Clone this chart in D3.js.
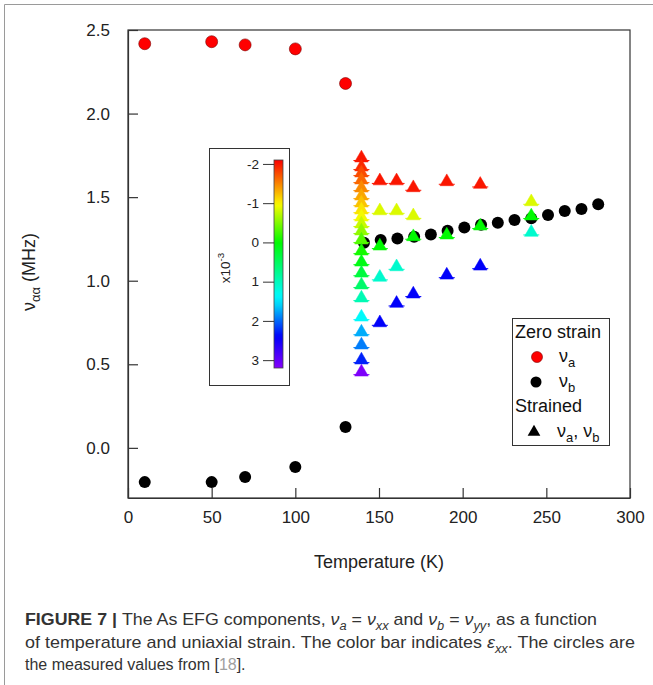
<!DOCTYPE html>
<html>
<head>
<meta charset="utf-8">
<script src="https://cdn.jsdelivr.net/npm/d3@7"></script>
<style>
  body { margin: 0; background: #fff; }
  svg { display: block; font-family: "Liberation Sans", Arial, sans-serif; }
</style>
</head>
<body>
<svg id="chart" width="653" height="685"></svg>
<script>
// zero strain, nu_a (red circles)
const zeroTempA = [10, 50, 70, 100, 130];
const zeroNuA = [2.418, 2.430, 2.411, 2.387, 2.180];

// zero strain, nu_b (black circles)
const zeroTempB = [10, 50, 70, 100, 130, 141, 151, 161, 171, 181, 191, 201, 211, 221, 231, 241, 251, 261, 271, 281];
const zeroNuB = [-0.205, -0.205, -0.174, -0.114, 0.125, 1.227, 1.243, 1.253, 1.263, 1.277, 1.299, 1.319,
  1.335, 1.347, 1.363, 1.373, 1.393, 1.417, 1.429, 1.458];

// strained (triangles): temperature, nu, strain eps_xx (x10^-3)
const strainTemp = [
  139.5, 139.5, 139.5, 139.5, 139.5, 139.5, 139.5, 139.5, 139.5, 139.5, 139.5,
  139.5, 139.5, 139.5, 139.5, 139.5, 139.5, 139.5, 139.5, 139.5, 139.5, 139.5,
  150.5, 150.5, 150.5, 150.5, 150.5,
  160.5, 160.5, 160.5, 160.5,
  170.5, 170.5, 170.5, 170.5,
  190.5, 190.5, 190.5,
  210.5, 210.5, 210.5,
  241, 241, 241
];
const strainNu = [
  1.734, 1.680, 1.644, 1.602, 1.554, 1.506, 1.464, 1.422, 1.380, 1.339, 1.297,
  1.243, 1.177, 1.111, 1.045, 0.974, 0.896, 0.782, 0.692, 0.615, 0.525, 0.453,
  1.597, 1.418, 1.207, 1.020, 0.748,
  1.597, 1.418, 1.083, 0.864,
  1.556, 1.388, 1.263, 0.920,
  1.592, 1.273, 1.033,
  1.576, 1.327, 1.087,
  1.472, 1.387, 1.289
];
const strainEps = [
  -2.0, -1.91, -1.76, -1.63, -1.47, -1.34, -1.21, -1.06, -0.94, -0.77, -0.56,
  -0.32, -0.08, 0.11, 0.33, 0.56, 0.96, 1.36, 1.74, 1.92, 2.27, 3.15,
  -2.0, -0.85, 0.0, 1.1, 2.4,
  -2.0, -0.85, 1.1, 2.4,
  -2.0, -0.85, 0.0, 2.4,
  -2.0, 0.0, 2.4,
  -2.0, 0.0, 2.4,
  -0.85, 0.0, 1.1
];

const xTicks = [0, 50, 100, 150, 200, 250, 300];
const yTicks = [0, 0.5, 1.0, 1.5, 2.0, 2.5];
const cbTicks = [-2, -1, 0, 1, 2, 3];

const svg = d3.select("#chart");

const x = d3.scaleLinear().domain([0, 300]).range([128, 630]);
const y = d3.scaleLinear().domain([-0.3, 2.5]).range([498, 30]);

const hue = d3.scaleLinear()
  .domain([-2.1, -1, 0, 1, 1.6, 2.4, 3.2])
  .range([0, 58, 120, 165, 190, 240, 272])
  .clamp(true);
const epsColor = (e) => d3.hsl(hue(e), 1, 0.49).formatHex();

// rich text with sub / superscripts
function rich(text, parts, size) {
  let shift = 0;
  parts.forEach(([str, kind, style]) => {
    const target = kind === "sub" ? size * 0.3 : kind === "sup" ? -size * 0.45 : 0;
    const ts = text.append("tspan").text(str).attr("dy", target - shift);
    if (kind) ts.attr("font-size", size * 0.72);
    if (style === "i") ts.attr("font-style", "italic");
    if (style === "b") ts.attr("font-weight", "bold");
    shift = target;
  });
}

// figure border
svg.append("path")
  .attr("d", "M4.5,685 V4.5 H653")
  .attr("fill", "none")
  .attr("stroke", "#9a9a9a");

// frame
svg.append("rect")
  .attr("x", x(0)).attr("y", y(2.5))
  .attr("width", x(300) - x(0)).attr("height", y(-0.3) - y(2.5))
  .attr("fill", "none").attr("stroke", "#333").attr("stroke-width", 1.2);

const gx = svg.append("g")
  .attr("transform", `translate(0,${y(-0.3)})`)
  .call(d3.axisBottom(x).tickValues(xTicks).tickSizeInner(-10).tickSizeOuter(0).tickPadding(13).tickFormat(d3.format("d")));

const gy = svg.append("g")
  .attr("transform", `translate(${x(0)},0)`)
  .call(d3.axisLeft(y).tickValues(yTicks).tickSizeInner(-10).tickSizeOuter(0).tickPadding(18).tickFormat(d3.format(".1f")));

[gx, gy].forEach((g) => {
  g.select(".domain").attr("stroke", "#333").attr("stroke-width", 1.2);
  g.selectAll(".tick line").attr("stroke", "#333").attr("stroke-width", 1.2);
  g.selectAll(".tick text").attr("font-size", 17).attr("fill", "#222")
    .attr("font-family", "Liberation Sans, Arial, sans-serif");
});

svg.append("text")
  .attr("x", (x(0) + x(300)) / 2).attr("y", 568)
  .attr("text-anchor", "middle").attr("font-size", 18).attr("fill", "#222")
  .text("Temperature (K)");

const yTitle = svg.append("text")
  .attr("transform", "translate(35,272) rotate(-90)")
  .attr("text-anchor", "middle").attr("font-size", 18).attr("fill", "#222");
rich(yTitle, [["ν"], ["αα", "sub"], [" (MHz)"]], 18);

// zero strain markers
svg.append("g").selectAll("circle")
  .data(zeroTempB.map((t, i) => [t, zeroNuB[i]]))
  .join("circle")
  .attr("cx", (d) => x(d[0])).attr("cy", (d) => y(d[1]))
  .attr("r", 6).attr("fill", "#000");

svg.append("g").selectAll("circle")
  .data(zeroTempA.map((t, i) => [t, zeroNuA[i]]))
  .join("circle")
  .attr("cx", (d) => x(d[0])).attr("cy", (d) => y(d[1]))
  .attr("r", 6).attr("fill", "#f00").attr("stroke", "#7a0000").attr("stroke-width", 0.6);

// strained markers
const tri = d3.symbol(d3.symbolTriangle, 80);
const strained = strainTemp.map((t, i) => ({ t, nu: strainNu[i], eps: strainEps[i] }));
const gt = svg.append("g").selectAll("g")
  .data(strained)
  .join("g")
  .attr("transform", (d) => `translate(${x(d.t)},${y(d.nu)})`);
gt.append("line")
  .attr("x1", -8).attr("x2", 8).attr("y1", 2.5).attr("y2", 2.5)
  .attr("stroke", (d) => epsColor(d.eps)).attr("stroke-width", 1);
gt.append("path")
  .attr("d", tri)
  .attr("fill", (d) => epsColor(d.eps))
  .attr("stroke", (d) => epsColor(d.eps)).attr("stroke-width", 0.5);

// color bar
const cb = d3.scaleLinear().domain([-2.1, 3.2]).range([160, 368]);
const grad = svg.append("defs").append("linearGradient")
  .attr("id", "cbGrad").attr("x1", 0).attr("x2", 0).attr("y1", 0).attr("y2", 1);
d3.range(0, 1.0001, 0.02).forEach((f) => {
  grad.append("stop").attr("offset", f).attr("stop-color", epsColor(-2.1 + f * 5.3));
});

svg.append("rect")
  .attr("x", 209.5).attr("y", 148.5).attr("width", 80).attr("height", 237)
  .attr("fill", "#fff").attr("stroke", "#333").attr("stroke-width", 1);
svg.append("rect")
  .attr("x", 274).attr("y", cb(-2.1)).attr("width", 9).attr("height", cb(3.2) - cb(-2.1))
  .attr("fill", "url(#cbGrad)").attr("stroke", "#444").attr("stroke-width", 0.8);
const gc = svg.append("g")
  .attr("transform", "translate(274,0)")
  .call(d3.axisLeft(cb).tickValues(cbTicks).tickSizeInner(11).tickSizeOuter(0).tickPadding(4).tickFormat((d) => String(d)));
gc.select(".domain").remove();
gc.selectAll(".tick line").attr("stroke", "#333");
gc.selectAll(".tick text").attr("font-size", 13.5).attr("fill", "#222")
  .attr("font-family", "Liberation Sans, Arial, sans-serif");

const cbTitle = svg.append("text")
  .attr("transform", "translate(230,268) rotate(-90)")
  .attr("text-anchor", "middle").attr("font-size", 13.5).attr("fill", "#222");
rich(cbTitle, [["x10"], ["-3", "sup"]], 13.5);

// legend
const lg = svg.append("g");
lg.append("rect")
  .attr("x", 512.5).attr("y", 318.5).attr("width", 97).attr("height", 127)
  .attr("fill", "#fff").attr("stroke", "#333").attr("stroke-width", 1);
lg.append("text").attr("x", 515).attr("y", 338).attr("font-size", 18).attr("fill", "#111").text("Zero strain");
lg.append("circle").attr("cx", 537).attr("cy", 357).attr("r", 5.5)
  .attr("fill", "#f00").attr("stroke", "#7a0000").attr("stroke-width", 0.6);
rich(lg.append("text").attr("x", 559).attr("y", 362).attr("font-size", 18).attr("fill", "#111"), [["ν"], ["a", "sub"]], 18);
lg.append("circle").attr("cx", 536).attr("cy", 382).attr("r", 5.5).attr("fill", "#000");
rich(lg.append("text").attr("x", 559).attr("y", 387).attr("font-size", 18).attr("fill", "#111"), [["ν"], ["b", "sub"]], 18);
lg.append("text").attr("x", 515).attr("y", 412).attr("font-size", 18).attr("fill", "#111").text("Strained");
lg.append("path").attr("transform", "translate(534,432)").attr("d", d3.symbol(d3.symbolTriangle, 70)).attr("fill", "#000");
rich(lg.append("text").attr("x", 557).attr("y", 437).attr("font-size", 18).attr("fill", "#111"),
  [["ν"], ["a", "sub"], [", ν"], ["b", "sub"]], 18);

// caption
const capSize = 17;
const cap1 = svg.append("text").attr("x", 25).attr("y", 625).attr("font-size", capSize).attr("fill", "#333")
  .attr("textLength", 572).attr("lengthAdjust", "spacingAndGlyphs");
rich(cap1, [
  ["FIGURE 7 | ", null, "b"], ["The As EFG components, "],
  ["ν", null, "i"], ["a", "sub", "i"], [" = "], ["ν", null, "i"], ["xx", "sub", "i"],
  [" and "], ["ν", null, "i"], ["b", "sub", "i"], [" = "], ["ν", null, "i"], ["yy", "sub", "i"],
  [", as a function"]
], capSize);
const cap2 = svg.append("text").attr("x", 25).attr("y", 648).attr("font-size", capSize).attr("fill", "#333")
  .attr("textLength", 610).attr("lengthAdjust", "spacingAndGlyphs");
rich(cap2, [
  ["of temperature and uniaxial strain. The color bar indicates "],
  ["ε", null, "i"], ["xx", "sub", "i"], [". The circles are"]
], capSize);
const cap3 = svg.append("text").attr("x", 25).attr("y", 670).attr("font-size", 16).attr("fill", "#333");
cap3.append("tspan").text("the measured values from [");
cap3.append("tspan").attr("fill", "#a0a0a0").text("18");
cap3.append("tspan").text("].");
</script>
</body>
</html>
